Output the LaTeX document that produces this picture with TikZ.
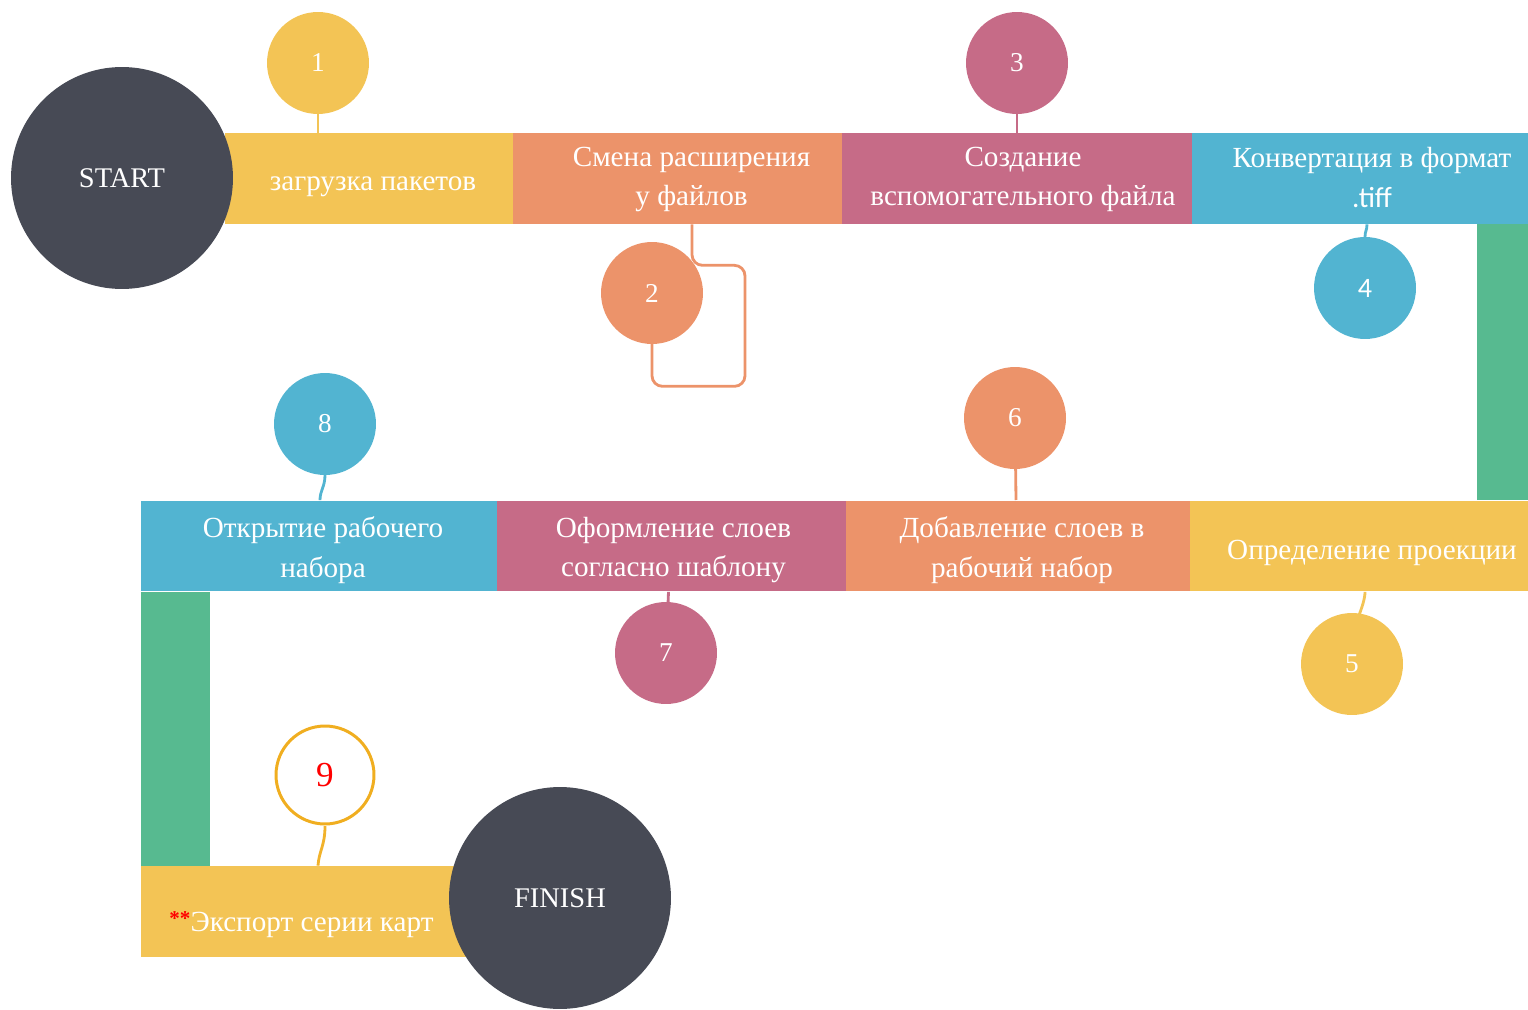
\documentclass[tikz,border=0pt]{standalone}
\usepackage{fontspec}
\setmainfont{Liberation Serif}
\newfontfamily\calib{Carlito}
\usepackage{xcolor}
\usetikzlibrary{positioning, calc}
\definecolor{temn}{HTML}{474A55}
\definecolor{zhelt}{HTML}{F3C455}
\definecolor{oranzh}{HTML}{EC936A}
\definecolor{roz}{HTML}{C66B87}
\definecolor{gol}{HTML}{52B4D1}
\definecolor{zel}{HTML}{57BA90}
\definecolor{kolco}{HTML}{F0AE20}
\tikzset{
  etap/.style={rectangle, minimum height=1.82cm, inner sep=0pt},
  tekst/.style={inner sep=0pt, text=white, align=center,
                font=\fontsize{16.6}{22.5}\selectfont},
  num/.style={circle, minimum size=2.04cm, inner sep=0pt, text=white,
              font=\fontsize{15.5}{18}\selectfont},
  term/.style={circle, fill=temn, minimum size=4.44cm, inner sep=0pt, text=white,
               font=\fontsize{16.2}{18}\selectfont},
  lnk/.style={line width=1.6pt}
}

\begin{document}
\begin{tikzpicture}[x=0.02cm, y=-0.02cm]
  \useasboundingbox (0,0) rectangle (1528,1010);
  % verhnij rjad
  \node[etap, fill=zhelt, minimum width=5.76cm] (b1) at (369,178.5) {};
  \node[etap, fill=oranzh, minimum width=6.58cm] (b2) at (677.5,178.5) {};
  \node[etap, fill=roz, minimum width=7cm] (b3) at (1017,178.5) {};
  \node[etap, fill=gol, minimum width=6.72cm] (b4) at (1360,178.5) {};
  % srednij rjad
  \node[etap, fill=zhelt, minimum width=6.76cm] (b5) at (1359,546) {};
  \node[etap, fill=oranzh, minimum width=6.88cm] (b6) at (1018,546) {};
  \node[etap, fill=roz, minimum width=6.98cm] (b7) at (671.5,546) {};
  \node[etap, fill=gol, minimum width=7.12cm] (b8) at (319,546) {};
  % nizhnij rjad
  \node[etap, fill=zhelt, minimum width=6.78cm] (b9) at (310.5,911.5) {};

  \node[tekst] (t1) at ($(b1)+(4,8)$) {загрузка пакетов};
  \node[tekst] (t2) at ($(b2)+(14,1)$) {Смена расширения\\у файлов};
  \node[tekst] (t3) at ($(b3)+(6,1)$) {Создание\\вспомогательного\ файла};
  \node[tekst] (t4) at ($(b4)+(12,-1)$) {Конвертация в формат\\{\calib .tiff}};
  \node[tekst] (t5) at ($(b5)+(13,7)$) {Определение проекции};
  \node[tekst] (t6) at ($(b6)+(4,4)$) {Добавление слоев в\\рабочий набор};
  \node[tekst] (t7) at ($(b7)+(2,4)$) {Оформление слоев\\согласно шаблону};
  \node[tekst] (t8) at ($(b8)+(4,4)$) {Открытие рабочего\\набора};
  \node[tekst] (t9) at ($(b9)+(-9,13)$)
    {\raisebox{0.45ex}{\textcolor{red}{\bfseries\fontsize{12}{12}\selectfont **}}Экспорт серии карт};

  % perehody
  \fill[zel] (b4.south east) ++(-51,0) rectangle (b5.north east);
  \fill[zel] (b8.south west) rectangle ($(b9.north west)+(69,0)$);

  \coordinate (v2) at ($(b2.south)+(14.5,0)$);
  \coordinate (v5) at ($(b5.south)+(6,0)$);

  \draw[lnk, zhelt] (318,63) -- (318,133);
  \draw[lnk, roz] (1017,63) -- (1017,133);
  \draw[lnk, oranzh, rounded corners=6pt] (v2) -- ++(0,41) -- ++(53,0) -- ++(0,121)
    -- ++(-93,0) -- (652,293);
  \draw[lnk, gol] (1365,288) -- (1365,237) .. controls +(0,-6) and +(0,6) .. ($(b4.south)+(7,0)$);
  \draw[lnk, zhelt] (v5) .. controls +(0,14) and +(0,-12) .. (1352,640);
  \draw[lnk, oranzh] (1015,418) -- (1016,500);
  \draw[lnk, roz] ($(b7.south)+(-3,0)$) -- (666,653);
  \draw[lnk, gol] (325,424) -- (325,475) .. controls +(0,12) and +(0,-10) .. ($(b8.north)+(1,0)$);
  \draw[lnk, kolco!80!zhelt] (325,826) .. controls +(0,20) and +(1,-15) .. ($(b9.north)+(7.5,0)$);

  % krugi s nomerami
  \node[num, fill=zhelt] (c1) at (318,63) {1};
  \node[num, fill=oranzh] (c2) at (652,293) {2};
  \node[num, fill=roz] (c3) at (1017,63) {3};
  \node[num, fill=gol, font=\calib\fontsize{16}{18}\selectfont] (c4) at (1365,288) {4};
  \node[num, fill=zhelt] (c5) at (1352,664) {5};
  \node[num, fill=oranzh] (c6) at (1015,418) {6};
  \node[num, fill=roz] (c7) at (666,653) {7};
  \node[num, fill=gol] (c8) at (325,424) {8};
  \node[num, fill=white, draw=kolco, line width=1.7pt, minimum size=1.96cm, text=red,
        font=\fontsize{20}{24}\selectfont] (c9) at (325,775) {9};

  \node[term] (start) at (122,178) {START};
  \node[term] (finish) at (560,898) {FINISH};
\end{tikzpicture}
\end{document}
